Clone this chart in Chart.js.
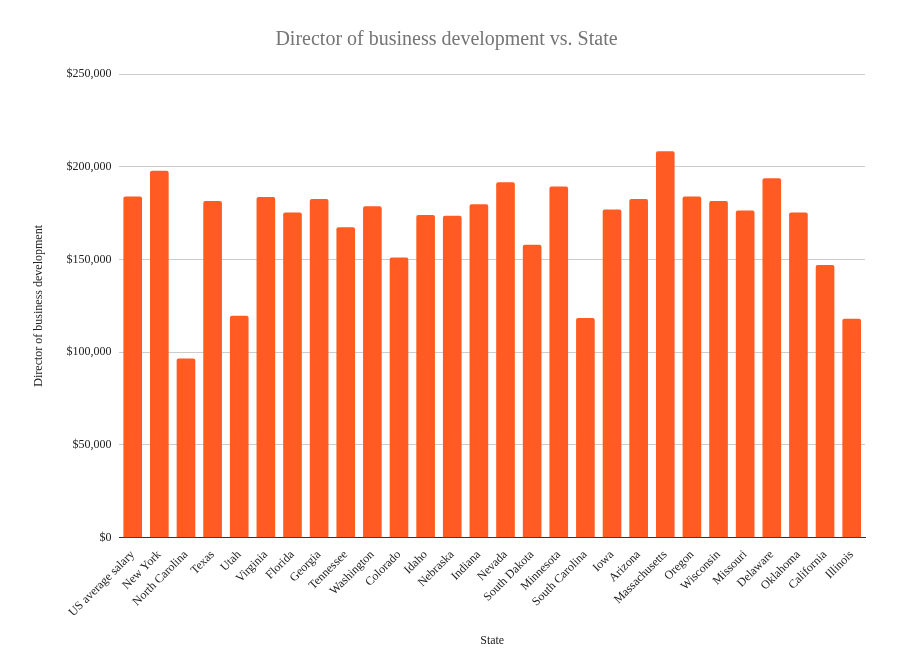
<!DOCTYPE html>
<html lang="en">
<head>
  <meta charset="UTF-8">
  <title>Director of business development vs. State</title>
  <style>
    body { margin: 0; background: #fff; }
    .chart-container { width: 899px; height: 668px; }
  </style>
</head>
<body>
  <div class="chart-container">
    <canvas id="barChart"></canvas>
  </div>
  <script src="https://cdn.jsdelivr.net/npm/chart.js"></script>
  <script>
    const states = ['US average salary', 'New York', 'North Carolina', 'Texas', 'Utah', 'Virginia', 'Florida',
      'Georgia', 'Tennessee', 'Washington', 'Colorado', 'Idaho', 'Nebraska', 'Indiana', 'Nevada', 'South Dakota',
      'Minnesota', 'South Carolina', 'Iowa', 'Arizona', 'Massachusetts', 'Oregon', 'Wisconsin', 'Missouri',
      'Delaware', 'Oklahoma', 'California', 'Illinois'];
    const salaries = [184000, 197800, 96600, 181500, 119700, 183700, 175300, 182600, 167400, 178700, 151000,
      174000, 173600, 179800, 191600, 157900, 189300, 118500, 177000, 182600, 208400, 184000, 181500, 176400,
      193800, 175300, 147000, 118000];
    const yTicks = [0, 50000, 100000, 150000, 200000, 250000];

    const font = { family: '"Liberation Serif", "Times New Roman", serif' };
    Chart.defaults.font.family = font.family;
    Chart.defaults.color = '#222';

    new Chart(document.getElementById('barChart').getContext('2d'), {
      type: 'bar',
      data: {
        labels: states,
        datasets: [{
          label: 'Director of business development',
          data: salaries,
          backgroundColor: '#ff5b22',
          categoryPercentage: 0.7,
          barPercentage: 1.0,
          borderRadius: { topLeft: 2, topRight: 2 },
          borderSkipped: 'bottom'
        }]
      },
      options: {
        responsive: true,
        maintainAspectRatio: false,
        animation: false,
        layout: { padding: { left: 28, right: 34, top: 20, bottom: 16 } },
        plugins: {
          legend: { display: false },
          title: {
            display: true,
            text: 'Director of business development vs. State',
            color: '#757575',
            font: { size: 20, weight: 'normal' },
            padding: { top: 8, bottom: 22 }
          },
          tooltip: { enabled: false }
        },
        scales: {
          x: {
            grid: { display: false },
            border: { color: '#333' },
            ticks: { maxRotation: 45, minRotation: 45, font: { size: 12 }, color: '#222', padding: 2 },
            title: { display: true, text: 'State', font: { size: 12 }, padding: { top: 12 } }
          },
          y: {
            min: 0,
            max: 250000,
            afterBuildTicks: axis => { axis.ticks = yTicks.map(v => ({ value: v })); },
            grid: { color: '#cccccc', drawTicks: false },
            border: { display: false },
            ticks: {
              font: { size: 12 }, color: '#222', padding: 8,
              callback: v => '$' + v.toLocaleString('en-US')
            },
            title: { display: true, text: 'Director of business development', font: { size: 12 }, padding: { bottom: 12 } }
          }
        }
      }
    });
  </script>
</body>
</html>
